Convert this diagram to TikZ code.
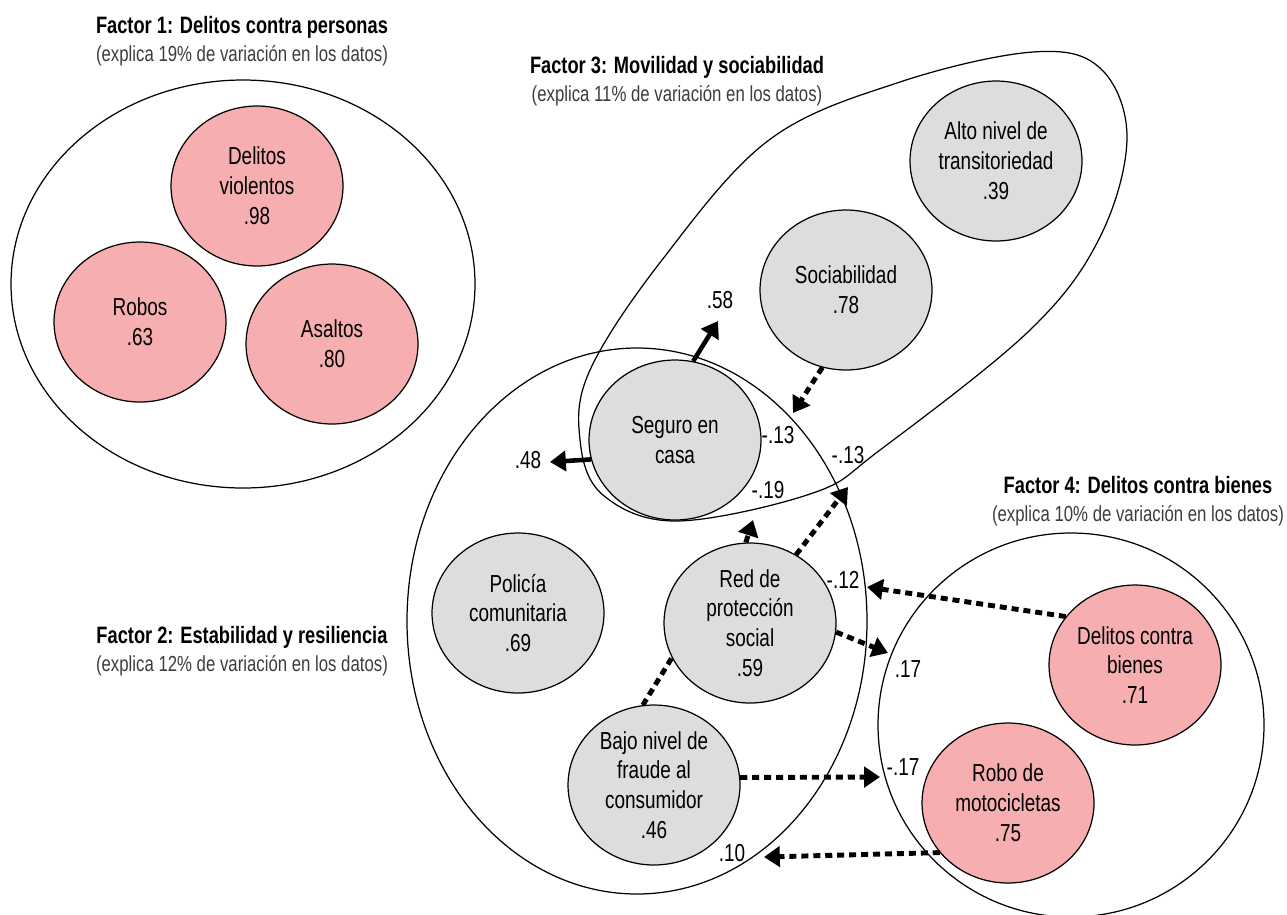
\documentclass[tikz,border=0pt]{standalone}
\usepackage{fontspec}
\setmainfont{Liberation Sans}[FakeStretch=0.77]
\usetikzlibrary{arrows.meta,shapes.geometric}

\definecolor{crimepink}{RGB}{246,174,177}
\definecolor{socgray}{RGB}{220,221,223}
\definecolor{subgray}{RGB}{60,60,60}

\tikzset{
  factorline/.style={draw=black, line width=0.7pt},
  item/.style={ellipse, draw=black, line width=0.7pt,
    minimum width=3.44cm, minimum height=3.2cm,
    inner sep=0pt, align=center,
    font=\fontsize{14}{17}\selectfont},
  pinkitem/.style={item, fill=crimepink},
  grayitem/.style={item, fill=socgray},
  coef/.style={inner sep=1pt, font=\fontsize{14}{17}\selectfont},
  factortitle/.style={align=center, font=\fontsize{13.5}{16}\selectfont},
  solidarrow/.style={line width=2.6pt, -{Triangle[length=9pt,width=11.5pt]}},
  dotline/.style={line width=2.8pt, dash pattern=on 4pt off 2.8pt},
  dotarrow/.style={dotline, -{Triangle[length=9pt,width=11.5pt]}}
}
\newcommand{\subline}[1]{\textcolor{subgray}{\fontsize{12.4}{16}\selectfont #1}}

\begin{document}
\begin{tikzpicture}[x=0.02cm, y=-0.02cm]
  \useasboundingbox (0,0) rectangle (1287,914);

  % factor outlines
  \draw[factorline] (243,284) ellipse [x radius=232, y radius=204];
  \draw[factorline] (637,621) ellipse [x radius=230, y radius=273];
  \draw[factorline] plot[smooth cycle, tension=0.6] coordinates {
    (1033,52) (1100,68) (1127,137) (1100,237) (1030,330) (880,450)
    (813,493) (677,521) (603,495) (580,440) (590,370) (662,260)
    (769,140) (900,82)};
  \draw[factorline] (1071,725) ellipse [x radius=193, y radius=192];

  % titles
  \node[factortitle] (f1) at (242,41) {\textbf{Factor 1: Delitos contra personas}\\
    \subline{(explica 19\% de variación en los datos)}};
  \node[factortitle] (f2) at (242,651) {\textbf{Factor 2: Estabilidad y resiliencia}\\
    \subline{(explica 12\% de variación en los datos)}};
  \node[factortitle] (f3) at (677,81) {\textbf{Factor 3: Movilidad y sociabilidad}\\
    \subline{(explica 11\% de variación en los datos)}};
  \node[factortitle] (f4) at (1138,501) {\textbf{Factor 4: Delitos contra bienes}\\
    \subline{(explica 10\% de variación en los datos)}};

  % variables
  \node[pinkitem] (violentos) at (257,186) {Delitos\\violentos\\.98};
  \node[pinkitem] (robos) at (140,322) {Robos\\.63};
  \node[pinkitem] (asaltos) at (332,344) {Asaltos\\.80};
  \node[grayitem] (transit) at (996,161) {Alto nivel de\\transitoriedad\\.39};
  \node[grayitem] (sociab) at (846,290) {Sociabilidad\\.78};
  \node[grayitem] (seguro) at (675,440) {Seguro en\\casa};
  \node[grayitem] (policia) at (518,613) {Policía\\comunitaria\\.69};
  \node[grayitem] (red) at (750,623) {Red de\\protección\\social\\.59};
  \node[grayitem] (fraude) at (654,785) {Bajo nivel de\\fraude al\\consumidor\\.46};
  \node[pinkitem] (bienes) at (1135,665) {Delitos contra\\bienes\\.71};
  \node[pinkitem] (motos) at (1008,803) {Robo de\\motocicletas\\.75};

  % loadings
  \node[coef] (c58) at (720,300) {.58};
  \node[coef] (c48) at (528,460) {.48};
  \node[coef] (c13a) at (778,435) {-.13};
  \node[coef] (c19) at (768,490) {-.19};
  \node[coef] (c13b) at (848,455) {-.13};
  \node[coef] (c12) at (843,580) {-.12};
  \node[coef] (c17a) at (908,669) {.17};
  \node[coef] (c17b) at (903,767) {-.17};
  \node[coef] (c10) at (732,853) {.10};

  \coordinate (t58) at (718,321);
  \coordinate (t48) at (550,462);
  \coordinate (t13a) at (793,413);
  \coordinate (t19) at (753,520);
  \coordinate (t13b) at (848,487);
  \coordinate (t12) at (867,587);
  \coordinate (t17a) at (888,653);
  \coordinate (t17b) at (880,777);
  \coordinate (t10) at (764,857);

  \draw[solidarrow] (seguro.77) -- (t58);
  \draw[solidarrow] (seguro.193) -- (t48);
  \draw[dotarrow] (sociab.253) -- (t13a);
  \draw[dotarrow] (red.93) -- (t19);
  \draw[dotarrow] (red.56) -- (t13b);
  \draw[dotarrow] (bienes.145) -- (t12);
  \draw[dotarrow] (red.354) -- (t17a);
  \draw[dotline] (fraude.98) -- (red.204);
  \draw[dotarrow] (fraude.5) -- (t17b);
  \draw[dotarrow] (motos.216) -- (t10);
\end{tikzpicture}
\end{document}
